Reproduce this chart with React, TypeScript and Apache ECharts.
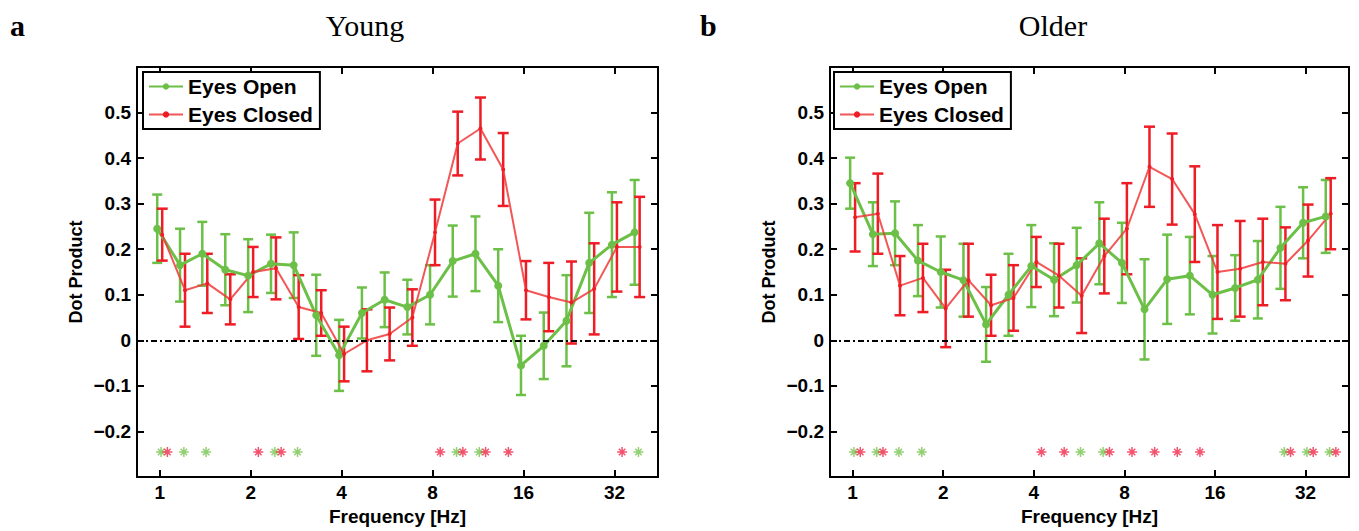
import React, { useEffect, useRef } from 'react';
import * as echarts from 'echarts';

// ---- data ----
const FREQS = [1, 1.19, 1.41, 1.68, 2, 2.38, 2.83, 3.36, 4, 4.76, 5.66, 6.73, 8, 9.51, 11.31, 13.45, 16, 19.03, 22.63, 26.91, 32, 38.05];
const FREQ_TICK_LABELS = ['1', '2', '4', '8', '16', '32'];

const YOUNG_OPEN_MEAN = [0.245, 0.165, 0.19, 0.155, 0.142, 0.168, 0.165, 0.055, -0.033, 0.06, 0.089, 0.073, 0.10, 0.174, 0.19, 0.12, -0.055, -0.012, 0.043, 0.17, 0.21, 0.237];
const YOUNG_OPEN_ERR = [0.075, 0.08, 0.07, 0.078, 0.08, 0.064, 0.072, 0.089, 0.078, 0.056, 0.06, 0.06, 0.065, 0.078, 0.082, 0.08, 0.065, 0.073, 0.1, 0.11, 0.115, 0.115];
const YOUNG_CLOSED_MEAN = [0.232, 0.11, 0.125, 0.09, 0.15, 0.158, 0.073, 0.06, -0.03, 0.0, 0.014, 0.05, 0.237, 0.432, 0.465, 0.375, 0.11, 0.095, 0.083, 0.113, 0.205, 0.205];
const YOUNG_CLOSED_ERR = [0.057, 0.08, 0.065, 0.055, 0.055, 0.068, 0.07, 0.05, 0.06, 0.068, 0.058, 0.062, 0.072, 0.07, 0.068, 0.08, 0.064, 0.075, 0.09, 0.1, 0.098, 0.11];

const OLDER_OPEN_MEAN = [0.345, 0.233, 0.235, 0.175, 0.15, 0.132, 0.035, 0.10, 0.163, 0.133, 0.165, 0.213, 0.17, 0.068, 0.134, 0.142, 0.10, 0.115, 0.133, 0.203, 0.258, 0.272];
const OLDER_OPEN_ERR = [0.056, 0.07, 0.07, 0.078, 0.078, 0.08, 0.082, 0.09, 0.09, 0.08, 0.082, 0.09, 0.088, 0.11, 0.098, 0.085, 0.085, 0.072, 0.085, 0.09, 0.078, 0.08];
const OLDER_CLOSED_MEAN = [0.27, 0.278, 0.12, 0.137, 0.07, 0.132, 0.077, 0.093, 0.172, 0.142, 0.098, 0.185, 0.245, 0.381, 0.354, 0.277, 0.15, 0.157, 0.172, 0.168, 0.219, 0.278];
const OLDER_CLOSED_ERR = [0.075, 0.088, 0.065, 0.075, 0.085, 0.08, 0.067, 0.072, 0.055, 0.07, 0.082, 0.082, 0.1, 0.088, 0.1, 0.105, 0.103, 0.105, 0.095, 0.08, 0.079, 0.078];

// indices (into FREQS) of significant frequencies, marked with asterisks
const YOUNG_OPEN_SIG = [0, 1, 2, 5, 6, 13, 14, 21];
const YOUNG_CLOSED_SIG = [0, 4, 5, 12, 13, 14, 15, 20];
const OLDER_OPEN_SIG = [0, 1, 2, 3, 10, 11, 19, 20, 21];
const OLDER_CLOSED_SIG = [0, 1, 8, 9, 11, 12, 13, 14, 15, 19, 20, 21];
const SIG_LEVEL = -0.245;

const SERIES_NAMES = ['Eyes Open', 'Eyes Closed'];
const PANEL_TITLES = ['Young', 'Older'];
const PANEL_LETTERS = ['a', 'b'];

// ---- style ----
const GREEN = '#6cbf47';
const RED = '#ee1c25';
const STAR_GREEN = '#78c450';
const STAR_RED = '#f0284a';
const SANS = '"Liberation Sans", Arial, Helvetica, sans-serif';
const SERIF = '"Liberation Serif", "Times New Roman", serif';
const OPEN_SHIFT = 0.981;
const CLOSED_SHIFT = 1.019;
const OPEN_STAR_SHIFT = 1.01;
const CLOSED_STAR_SHIFT = 1.06;
const X_MIN = 0.8409;
const X_MAX = 44.6;

const ASTERISK =
  'path://M-1.5,-10L1.5,-10L1.5,10L-1.5,10Z M-10,-1.5L10,-1.5L10,1.5L-10,1.5Z M-5.44,-7.56L7.56,5.44L5.44,7.56L-7.56,-5.44Z M7.56,-5.44L-5.44,7.56L-7.56,5.44L5.44,-7.56Z';

const GRIDS = [
  { left: 137, top: 67, width: 521, height: 410 },
  { left: 830, top: 67, width: 519, height: 410 },
];

function xLabel(v: number) {
  const l = Math.log2(v);
  if (Math.abs(l - Math.round(l)) < 1e-6) {
    const s = String(Math.round(v));
    return FREQ_TICK_LABELS.includes(s) ? s : '';
  }
  return '';
}
function yLabel(v: number) {
  if (Math.abs(v) < 1e-9) return '0';
  if (v > 0.55 || v < -0.25) return '';
  return (v < 0 ? '\u2212' : '') + Math.abs(v).toFixed(1);
}

function errorBars(name: string, axis: number, means: number[], errs: number[], shift: number, color: string, capW: number, lw: number) {
  return {
    type: 'custom',
    name,
    xAxisIndex: axis * 2,
    yAxisIndex: axis * 2,
    silent: true,
    encode: { x: 0, y: [1, 2] },
    data: FREQS.map((f, i) => [f * shift, means[i] - errs[i], means[i] + errs[i]]),
    renderItem: (_p: any, api: any) => {
      const x = api.value(0);
      const top = api.coord([x, api.value(2)]);
      const bot = api.coord([x, api.value(1)]);
      const style = { stroke: color, lineWidth: lw };
      return {
        type: 'group',
        children: [
          { type: 'line', shape: { x1: top[0], y1: top[1], x2: bot[0], y2: bot[1] }, style },
          { type: 'line', shape: { x1: top[0] - capW, y1: top[1], x2: top[0] + capW, y2: top[1] }, style },
          { type: 'line', shape: { x1: bot[0] - capW, y1: bot[1], x2: bot[0] + capW, y2: bot[1] }, style },
        ],
      };
    },
  };
}

function panelSeries(axis: number, om: number[], oe: number[], cm: number[], ce: number[], osig: number[], csig: number[]) {
  return [
    errorBars('open-err-' + axis, axis, om, oe, OPEN_SHIFT, GREEN, 5, 2.5),
    {
      type: 'line',
      name: SERIES_NAMES[0],
      xAxisIndex: axis * 2,
      yAxisIndex: axis * 2,
      data: FREQS.map((f, i) => [f * OPEN_SHIFT, om[i]]),
      symbol: 'circle',
      symbolSize: 8,
      itemStyle: { color: GREEN },
      lineStyle: { color: GREEN, width: 3 },
      markLine: {
        silent: true,
        symbol: ['none', 'none'],
        label: { show: false },
        lineStyle: { color: '#000', width: 2, type: [6, 3, 2, 3] },
        data: [{ yAxis: 0 }],
      },
    },
    errorBars('closed-err-' + axis, axis, cm, ce, CLOSED_SHIFT, RED, 5.5, 2.5),
    {
      type: 'line',
      name: SERIES_NAMES[1],
      xAxisIndex: axis * 2,
      yAxisIndex: axis * 2,
      data: FREQS.map((f, i) => [f * CLOSED_SHIFT, cm[i]]),
      symbol: 'circle',
      symbolSize: 4,
      itemStyle: { color: RED },
      lineStyle: { color: '#f03a3a', width: 2, opacity: 0.85 },
    },
    {
      type: 'scatter',
      name: 'open-sig-' + axis,
      xAxisIndex: axis * 2,
      yAxisIndex: axis * 2,
      symbol: ASTERISK,
      symbolSize: 10,
      itemStyle: { color: STAR_GREEN },
      data: osig.map((k) => [FREQS[k] * OPEN_STAR_SHIFT, SIG_LEVEL]),
    },
    {
      type: 'scatter',
      name: 'closed-sig-' + axis,
      xAxisIndex: axis * 2,
      yAxisIndex: axis * 2,
      symbol: ASTERISK,
      symbolSize: 10,
      itemStyle: { color: STAR_RED },
      data: csig.map((k) => [FREQS[k] * CLOSED_STAR_SHIFT, SIG_LEVEL]),
    },
  ];
}

export default function App() {
  const ref = useRef<HTMLDivElement>(null);
  useEffect(() => {
    if (!ref.current) return;
    const chart = echarts.init(ref.current, undefined, { renderer: 'svg' });
    const axisLine = { show: true, onZero: false, lineStyle: { color: '#000', width: 2 } };
    const tick = { show: true, inside: true, length: 7, lineStyle: { color: '#000', width: 2 } };
    const xAxes: any[] = [];
    const yAxes: any[] = [];
    GRIDS.forEach((_g, gi) => {
      xAxes.push({
        type: 'log', logBase: 2, gridIndex: gi, position: 'bottom', min: X_MIN, max: X_MAX,
        axisLine, axisTick: tick, splitLine: { show: false }, minorTick: { show: false },
        axisLabel: { formatter: xLabel, color: '#000', fontFamily: SANS, fontWeight: 'bold', fontSize: 19, margin: 6, showMinLabel: false, showMaxLabel: false },
        name: 'Frequency [Hz]', nameLocation: 'middle', nameGap: 27,
        nameTextStyle: { color: '#000', fontFamily: SANS, fontWeight: 'bold', fontSize: 19 },
      });
      xAxes.push({
        type: 'log', logBase: 2, gridIndex: gi, position: 'top', min: X_MIN, max: X_MAX,
        axisLine, axisTick: tick, splitLine: { show: false }, axisLabel: { show: false },
      });
      yAxes.push({
        type: 'value', gridIndex: gi, position: 'left', min: -0.3, max: 0.6, interval: 0.1,
        axisLine, axisTick: tick, splitLine: { show: false },
        axisLabel: { formatter: yLabel, color: '#000', fontFamily: SANS, fontWeight: 'bold', fontSize: 19, margin: 6 },
        name: 'Dot Product', nameLocation: 'middle', nameGap: 52,
        nameTextStyle: { color: '#000', fontFamily: SANS, fontWeight: 'bold', fontSize: 18 },
      });
      yAxes.push({
        type: 'value', gridIndex: gi, position: 'right', min: -0.3, max: 0.6, interval: 0.1,
        axisLine, axisTick: tick, splitLine: { show: false }, axisLabel: { show: false },
      });
    });

    const legendCommon = {
      orient: 'vertical',
      top: 72,
      data: SERIES_NAMES,
      itemWidth: 34,
      itemHeight: 8,
      itemGap: 7,
      padding: [4, 7, 4, 5],
      borderColor: '#000',
      borderWidth: 2,
      backgroundColor: '#fff',
      textStyle: { color: '#000', fontFamily: SANS, fontWeight: 'bold', fontSize: 21 },
      selectedMode: false,
    };

    chart.setOption({
      animation: false,
      backgroundColor: '#fff',
      grid: GRIDS.map((g) => ({ ...g, containLabel: false })),
      xAxis: xAxes,
      yAxis: yAxes,
      legend: [
        { ...legendCommon, left: 143 },
        { ...legendCommon, left: 834 },
      ],
      graphic: [
        { type: 'text', x: 10, y: 40, style: { text: PANEL_LETTERS[0], font: 'bold 30px ' + SERIF, fill: '#000', verticalAlign: 'bottom' } },
        { type: 'text', x: 365, y: 25, style: { text: PANEL_TITLES[0], font: '30px ' + SERIF, fill: '#000', align: 'center', verticalAlign: 'middle' } },
        { type: 'text', x: 700, y: 40, style: { text: PANEL_LETTERS[1], font: 'bold 30px ' + SERIF, fill: '#000', verticalAlign: 'bottom' } },
        { type: 'text', x: 1053, y: 25, style: { text: PANEL_TITLES[1], font: '30px ' + SERIF, fill: '#000', align: 'center', verticalAlign: 'middle' } },
      ],
      series: [
        ...panelSeries(0, YOUNG_OPEN_MEAN, YOUNG_OPEN_ERR, YOUNG_CLOSED_MEAN, YOUNG_CLOSED_ERR, YOUNG_OPEN_SIG, YOUNG_CLOSED_SIG),
        ...panelSeries(1, OLDER_OPEN_MEAN, OLDER_OPEN_ERR, OLDER_CLOSED_MEAN, OLDER_CLOSED_ERR, OLDER_OPEN_SIG, OLDER_CLOSED_SIG),
      ],
    });
    return () => chart.dispose();
  }, []);
  return <div ref={ref} style={{ position: 'absolute', left: 0, top: 0, width: 1359, height: 531 }} />;
}
